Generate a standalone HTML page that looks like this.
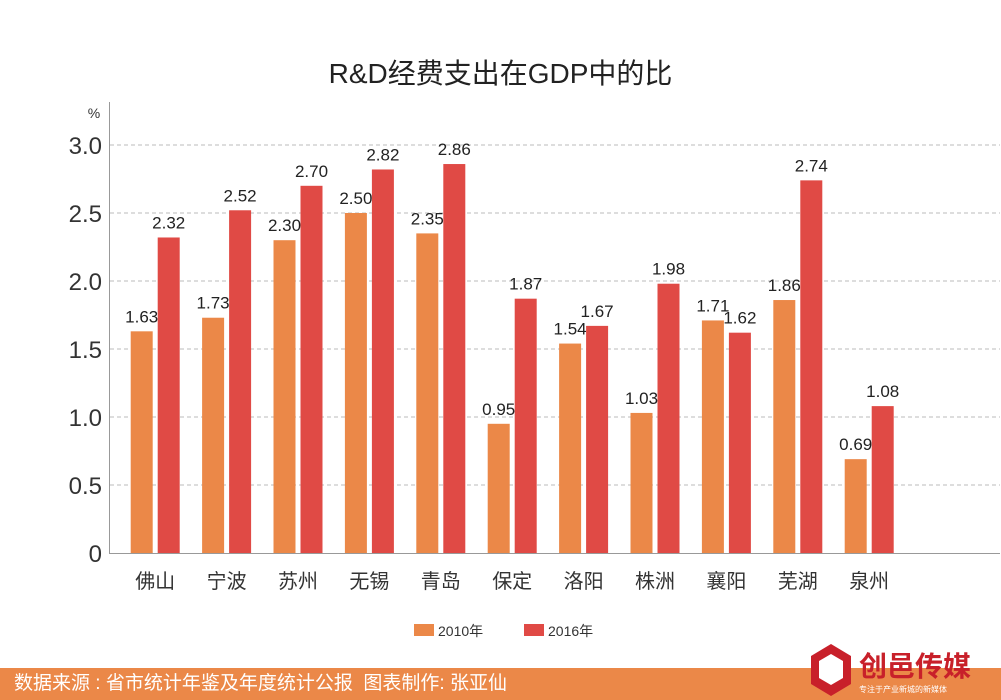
<!DOCTYPE html>
<html><head><meta charset="utf-8">
<style>
body{margin:0;width:1001px;height:700px;background:#fff;overflow:hidden;font-family:"Liberation Sans","Noto Sans CJK SC",sans-serif;position:relative}
#title{position:absolute;left:0;width:1001px;top:52px;text-align:center;font-size:28px;color:#222}
#footer{position:absolute;left:0;top:668px;width:1001px;height:32px;background:#eb8848;color:#fff;font-size:19px;line-height:32px;padding-left:14px;box-sizing:border-box}
#logo{position:absolute;right:10px;top:640px;width:180px;height:56px}
</style></head>
<body>
<div id="title">R&amp;D经费支出在GDP中的比</div>
<svg id="chart" width="1001" height="668" style="position:absolute;left:0;top:0"></svg>
<div id="footer">数据来源 : 省市统计年鉴及年度统计公报&nbsp;&nbsp;图表制作: 张亚仙</div>
<svg id="logo" viewBox="0 0 180 56">
<polygon points="20,4 40,16 40,44 20,56 0,44 0,16" fill="#c8202a"/>
<polygon points="20,14 32,21 32,38 20,45 8,38 8,21" fill="#fff"/>
<text x="48" y="36" font-size="28" font-weight="bold" fill="#c8202a" font-family="Liberation Sans,Noto Sans CJK SC,sans-serif">创邑传媒</text>
<text x="48" y="52" font-size="8" fill="#fff" font-family="Liberation Sans,Noto Sans CJK SC,sans-serif">专注于产业新城的新媒体</text>
</svg>
<script>
const categories=["佛山","宁波","苏州","无锡","青岛","保定","洛阳","株洲","襄阳","芜湖","泉州"];
const values2010=[1.63,1.73,2.30,2.50,2.35,0.95,1.54,1.03,1.71,1.86,0.69];
const values2016=[2.32,2.52,2.70,2.82,2.86,1.87,1.67,1.98,1.62,2.74,1.08];
const yTicks=[0,0.5,1.0,1.5,2.0,2.5,3.0];
const yTickLabels=["0","0.5","1.0","1.5","2.0","2.5","3.0"];
const seriesNames=["2010年","2016年"];
const colors=["#eb8848","#e04a45"];
const svg=document.getElementById('chart');
const NS="http://www.w3.org/2000/svg";
const x0=119.5,step=71.4,y0=553,yScale=136;
const y=v=>y0-v*yScale;
const xc=i=>x0+step*(i+0.5);
function mk(tag,attrs,parent){const e=document.createElementNS(NS,tag);for(const k in attrs)e.setAttribute(k,attrs[k]);(parent||svg).appendChild(e);return e;}
yTicks.forEach((t,i)=>{
  if(t>0){const g=mk('line',{x1:110,x2:1000,y1:y(t),y2:y(t),stroke:'#bbb','stroke-dasharray':'4,3'});
  
  }
  const tx=mk('text',{x:102,y:y(t)+9,'text-anchor':'end','font-size':24,fill:'#333'});
  tx.textContent=yTickLabels[i];
  
  
});
const pct=mk('text',{x:94,y:118,'text-anchor':'middle','font-size':14,fill:'#333'});pct.textContent='%';


const ya=mk('line',{x1:109.5,x2:109.5,y1:102,y2:y0,stroke:'#999'});


const xa=mk('line',{x1:109,x2:1000,y1:y0+0.5,y2:y0+0.5,stroke:'#999'});


const bw=22;
categories.forEach((c,i)=>{
  [values2010,values2016].forEach((vals,s)=>{
    const bx=s===0?xc(i)-bw-2.5:xc(i)+2.5;
    const r=mk('rect',{x:bx,y:y(vals[i]),width:bw,height:vals[i]*yScale,fill:colors[s]});
    
    
    const l=mk('text',{x:bx+bw/2,y:y(vals[i])-9,'text-anchor':'middle','font-size':17,fill:'#222'});
    l.textContent=vals[i].toFixed(2);
    
    
  });
  const cl=mk('text',{x:xc(i),y:588,'text-anchor':'middle','font-size':20,fill:'#333'});
  cl.textContent=c;
  
  
});
seriesNames.forEach((n,s)=>{
  const lx=s===0?414:524;
  const r=mk('rect',{x:lx,y:624,width:20,height:12,fill:colors[s]});
  
  
  const t=mk('text',{x:lx+24,y:636,'font-size':14,fill:'#333'});
  t.textContent=n;
  
  
});
</script>
</body></html>
